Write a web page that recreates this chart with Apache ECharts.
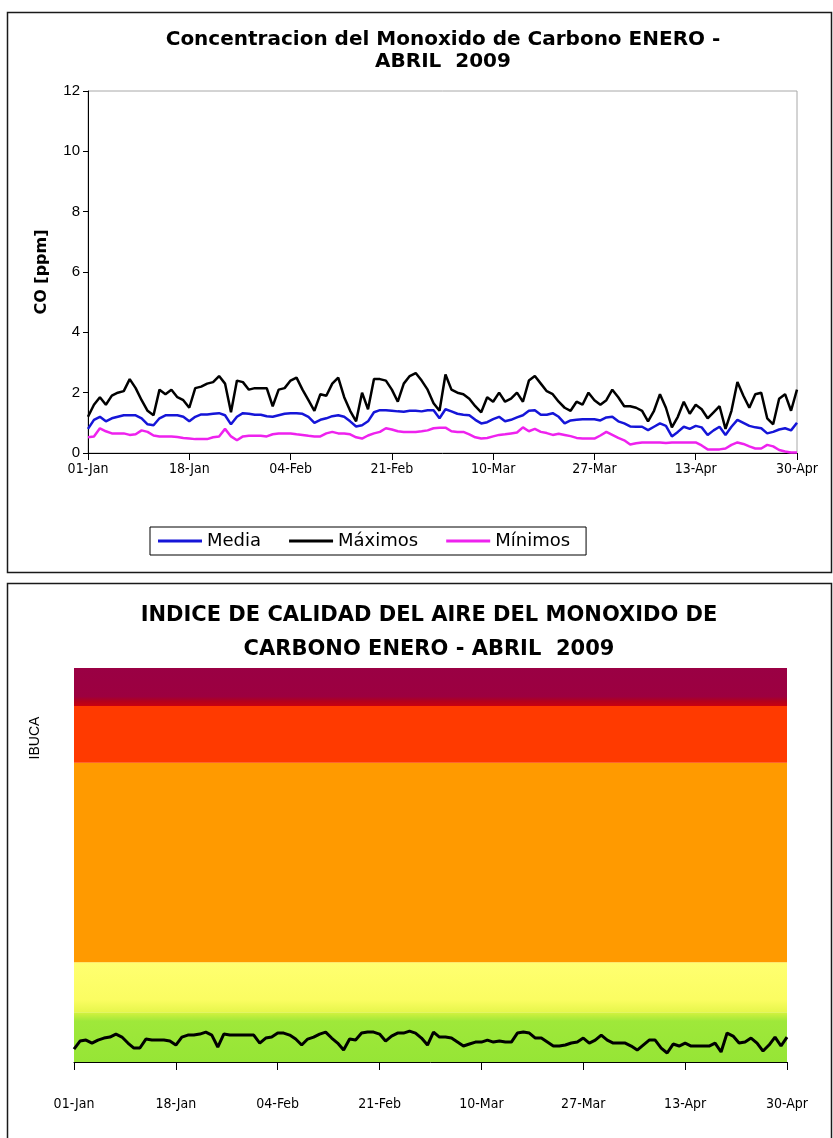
<!DOCTYPE html>
<html><head><meta charset="utf-8">
<script src="https://cdn.jsdelivr.net/npm/echarts@6/dist/echarts.min.js"></script>
<style>html,body{margin:0;padding:0;background:#fff}#c{width:833px;height:1138px}</style>
</head><body><div id="c"></div>
<script>
// ---- categories: each day from 01-Jan-2009 to 30-Apr-2009 ----
const monthNames = ['Jan','Feb','Mar','Apr'];
const monthDays = [31, 28, 31, 30];
const days = [];
monthDays.forEach((n, m) => { for (let d = 1; d <= n; d++) days.push((d < 10 ? '0' : '') + d + '-' + monthNames[m]); });

// ---- CO concentration [ppm] ----
const maximos = [
1.2,1.6,1.85,1.6,1.9,2.0,2.05,2.45,2.15,1.75,1.4,1.25,2.1,1.95,2.1,1.85,1.75,1.5,2.15,2.2,
2.3,2.35,2.55,2.3,1.35,2.4,2.35,2.1,2.15,2.15,2.15,1.55,2.1,2.15,2.4,2.5,2.1,1.75,1.4,1.95,
1.9,2.3,2.5,1.85,1.4,1.05,2.0,1.45,2.45,2.45,2.4,2.1,1.7,2.3,2.55,2.65,2.4,2.1,1.65,1.4,
2.6,2.1,2.0,1.95,1.8,1.55,1.35,1.85,1.7,2.0,1.7,1.8,2.0,1.7,2.4,2.55,2.3,2.05,1.95,1.7,
1.5,1.4,1.7,1.6,2.0,1.75,1.6,1.75,2.1,1.85,1.55,1.55,1.5,1.4,1.05,1.4,1.95,1.5,0.85,1.2,
1.7,1.3,1.6,1.45,1.15,1.35,1.55,0.8,1.4,2.35,1.9,1.5,1.95,2.0,1.15,0.95,1.8,1.95,1.4,2.1];
const media = [
0.8,1.1,1.2,1.05,1.15,1.2,1.25,1.25,1.25,1.15,0.95,0.92,1.15,1.25,1.25,1.25,1.2,1.05,1.2,1.28,
1.28,1.3,1.32,1.25,0.95,1.2,1.32,1.3,1.27,1.27,1.22,1.2,1.25,1.3,1.32,1.32,1.3,1.2,1.0,1.1,
1.15,1.22,1.25,1.2,1.05,0.88,0.92,1.05,1.35,1.42,1.42,1.4,1.38,1.37,1.4,1.4,1.38,1.42,1.42,1.15,
1.45,1.38,1.3,1.27,1.25,1.1,0.98,1.02,1.12,1.2,1.05,1.1,1.18,1.25,1.4,1.42,1.27,1.27,1.32,1.2,
0.98,1.08,1.1,1.12,1.12,1.12,1.08,1.18,1.2,1.05,0.98,0.88,0.87,0.87,0.76,0.87,0.98,0.9,0.55,0.7,
0.87,0.8,0.9,0.85,0.6,0.75,0.87,0.6,0.87,1.1,1.0,0.9,0.85,0.82,0.65,0.7,0.78,0.82,0.75,1.0];
const minimos = [
0.52,0.55,0.82,0.72,0.65,0.65,0.65,0.6,0.62,0.75,0.7,0.58,0.55,0.55,0.55,0.53,0.5,0.48,0.46,0.46,
0.46,0.52,0.55,0.8,0.55,0.42,0.55,0.57,0.57,0.57,0.55,0.62,0.65,0.65,0.65,0.62,0.6,0.57,0.55,0.55,
0.65,0.7,0.65,0.65,0.62,0.52,0.48,0.58,0.65,0.7,0.82,0.78,0.72,0.7,0.7,0.7,0.72,0.75,0.82,0.84,
0.84,0.72,0.7,0.7,0.62,0.52,0.48,0.5,0.55,0.6,0.62,0.65,0.68,0.85,0.72,0.8,0.7,0.66,0.6,0.64,
0.6,0.56,0.5,0.48,0.48,0.48,0.58,0.7,0.6,0.5,0.42,0.28,0.32,0.35,0.35,0.35,0.35,0.33,0.35,0.35,
0.35,0.35,0.35,0.25,0.12,0.12,0.12,0.15,0.27,0.35,0.3,0.22,0.15,0.15,0.27,0.22,0.1,0.05,0.02,0.02];

// ---- IBUCA index ----
const ibuca = [
13,21,22,19,22,24,25,28,25,19,14,14,23,22,22,22,21,17,25,27,
27,28,30,27,15,28,27,27,27,27,27,19,24,25,29,29,27,23,17,23,
25,28,30,24,19,12,23,22,29,30,30,28,21,26,29,29,31,29,24,17,
30,25,25,24,20,16,18,20,20,22,20,21,20,20,29,30,29,24,24,20,
16,16,17,19,20,24,19,22,27,22,19,19,19,16,12,17,22,22,14,9,
18,16,19,16,16,16,16,19,10,29,26,19,20,24,19,11,17,25,16,25];

// ---- IBUCA bands ----
const bandLimits = [0, 50, 100, 300, 357, 395];

const titleTop = 'Concentracion del Monoxido de Carbono ENERO -\nABRIL  2009';
const titleBottom = 'INDICE DE CALIDAD DEL AIRE DEL MONOXIDO DE\nCARBONO ENERO - ABRIL  2009';
const seriesNames = ['Media', 'Máximos', 'Mínimos'];
const seriesColors = ['#1515d8', '#000000', '#ee22ee'];

const bandColors = [
  {type:'linear',x:0,y:0,x2:0,y2:1,colorStops:[{offset:0,color:'#d6f23e'},{offset:0.18,color:'#9fe83a'},{offset:1,color:'#96e536'}]},
  {type:'linear',x:0,y:0,x2:0,y2:1,colorStops:[{offset:0,color:'#ffff70'},{offset:0.75,color:'#fbfd62'},{offset:1,color:'#e6f64c'}]},
  '#ff9a00',
  '#ff3a00',
  {type:'linear',x:0,y:0,x2:0,y2:1,colorStops:[{offset:0,color:'#9a0044'},{offset:0.75,color:'#9c0040'},{offset:0.88,color:'#b3001c'},{offset:1,color:'#c80010'}]}
];
const bands = [];
for (let i = 0; i < bandLimits.length - 1; i++) {
  bands.push([{yAxis: bandLimits[i], itemStyle: {color: bandColors[i]}}, {yAxis: bandLimits[i + 1]}]);
}

const narrow = "'Liberation Sans Narrow','DejaVu Sans Condensed',sans-serif";
const chart = echarts.init(document.getElementById('c'), null, {renderer: 'canvas'});
chart.setOption({
  animation: false,
  backgroundColor: '#fff',
  title: [
    {text: titleTop, left: 438, top: 24, textAlign: 'center',
     textStyle: {fontFamily: 'DejaVu Sans', fontWeight: 'bold', fontSize: 20, lineHeight: 22, color: '#000'}},
    {text: titleBottom, left: 424, top: 594, textAlign: 'center',
     textStyle: {fontFamily: 'DejaVu Sans', fontWeight: 'bold', fontSize: 21, lineHeight: 34, color: '#000'}}
  ],
  legend: {
    data: seriesNames.map(n => ({name: n, icon: 'rect'})),
    left: 150, top: 527, itemWidth: 44, itemHeight: 3, itemGap: 28,
    padding: [5, 16, 5, 8], borderColor: '#000', borderWidth: 1,
    textStyle: {fontFamily: 'DejaVu Sans', fontSize: 18, color: '#000', padding: [0, 0, 0, 0]}
  },
  grid: [
    {left: 88, top: 91, width: 709, height: 362, show: true, borderColor: '#a8a8a8', borderWidth: 1, backgroundColor: '#fff'},
    {left: 74, top: 668, width: 713, height: 394}
  ],
  xAxis: [
    {type: 'category', gridIndex: 0, data: days, boundaryGap: false,
     axisLine: {lineStyle: {color: '#000', width: 1}},
     axisTick: {interval: 16, length: 7, lineStyle: {color: '#000'}},
     axisLabel: {interval: 16, fontFamily: narrow, fontSize: 14, color: '#000', margin: 9}},
    {type: 'category', gridIndex: 1, data: days, boundaryGap: false,
     axisLine: {lineStyle: {color: '#000', width: 1}},
     axisTick: {interval: 16, length: 8, lineStyle: {color: '#000'}},
     axisLabel: {interval: 16, fontFamily: narrow, fontSize: 14, color: '#000', margin: 35}}
  ],
  yAxis: [
    {type: 'value', gridIndex: 0, min: 0, max: 12, interval: 2,
     name: 'CO [ppm]', nameLocation: 'middle', nameGap: 38,
     nameTextStyle: {fontFamily: 'DejaVu Sans', fontWeight: 'bold', fontSize: 16, color: '#000'},
     axisLine: {show: true, lineStyle: {color: '#000'}},
     axisTick: {show: true, length: 5, lineStyle: {color: '#000'}},
     splitLine: {show: false},
     axisLabel: {fontFamily: 'Liberation Sans', fontSize: 15, color: '#000', margin: 8}},
    {type: 'value', gridIndex: 1, min: 0, max: 395, show: false}
  ],
  series: [
    {name: 'Media', type: 'line', xAxisIndex: 0, yAxisIndex: 0, data: media, showSymbol: false,
     lineStyle: {color: seriesColors[0], width: 2.5}, itemStyle: {color: seriesColors[0]}, z: 3},
    {name: 'Máximos', type: 'line', xAxisIndex: 0, yAxisIndex: 0, data: maximos, showSymbol: false,
     lineStyle: {color: seriesColors[1], width: 2.5}, itemStyle: {color: seriesColors[1]}, z: 4},
    {name: 'Mínimos', type: 'line', xAxisIndex: 0, yAxisIndex: 0, data: minimos, showSymbol: false,
     lineStyle: {color: seriesColors[2], width: 2.5}, itemStyle: {color: seriesColors[2]}, z: 2},
    {name: 'bands', type: 'line', xAxisIndex: 1, yAxisIndex: 1, data: [], z: 1,
     markArea: {silent: true, label: {show: false}, data: bands}},
    {name: 'IBUCA', type: 'line', xAxisIndex: 1, yAxisIndex: 1, data: ibuca, showSymbol: false,
     lineStyle: {color: '#000', width: 3}, z: 5}
  ],
  graphic: [
    {type: 'rect', shape: {x: 7.5, y: 12.5, width: 824, height: 560}, style: {fill: null, stroke: '#1a1a1a', lineWidth: 1.5}, z: -1, silent: true},
    {type: 'rect', shape: {x: 7.5, y: 583.5, width: 824, height: 570}, style: {fill: null, stroke: '#1a1a1a', lineWidth: 1.5}, z: -1, silent: true},
    {type: 'text', x: 35, y: 738, rotation: Math.PI / 2,
     style: {text: 'IBUCA', fontFamily: 'Liberation Sans', fontSize: 14, fill: '#000', align: 'center', verticalAlign: 'middle'}}
  ]
});
</script></body></html>
